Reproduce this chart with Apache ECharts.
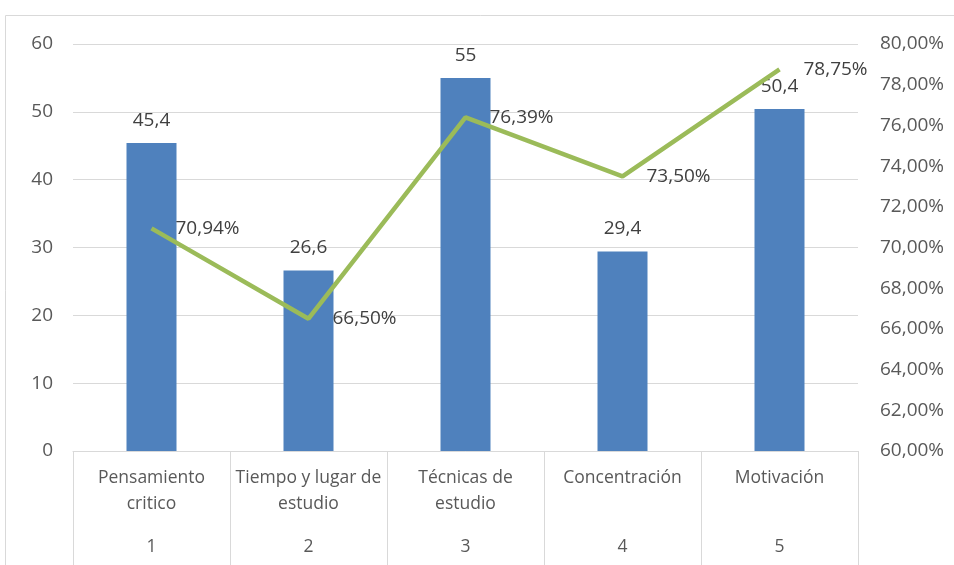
<!DOCTYPE html>
<html>
<head>
<meta charset="utf-8">
<script src="https://cdn.jsdelivr.net/npm/echarts@6/dist/echarts.min.js"></script>
<style>
  html, body { margin: 0; padding: 0; background: #fff; }
  #chart { width: 954px; height: 565px; }
</style>
</head>
<body>
<div id="chart"></div>
<script>
// datos del grafico
var categorias = ['Pensamiento\ncritico', 'Tiempo y lugar de\nestudio', 'Técnicas de\nestudio', 'Concentración', 'Motivación'];
var numeros = ['1', '2', '3', '4', '5'];
var valores = [45.4, 26.6, 55, 29.4, 50.4];
var porcentajes = [70.94, 66.50, 76.39, 73.50, 78.75];

var fuente = 'Open Sans';
var gris = '#d9d9d9';

function coma(v, dec) {
    return (dec == null ? String(v) : v.toFixed(dec)).replace('.', ',');
}

var myChart = echarts.init(document.getElementById('chart'));

var option = {
    animation: false,
    textStyle: { fontFamily: fuente },
    graphic: [
        {
            type: 'rect',
            shape: { x: 5.5, y: 15.5, width: 1000, height: 600 },
            style: { fill: 'none', stroke: gris, lineWidth: 1 },
            silent: true
        }
    ],
    grid: { left: 73, right: 96, top: 44, bottom: 114 },
    xAxis: [
        {
            type: 'category',
            data: categorias,
            position: 'bottom',
            axisLine: { show: true, lineStyle: { color: gris } },
            axisTick: { show: true, length: 114, interval: 0, lineStyle: { color: gris } },
            axisLabel: {
                interval: 0, margin: 14, color: '#595959',
                fontSize: 17.5, lineHeight: 26, fontFamily: fuente
            }
        },
        {
            type: 'category',
            data: numeros,
            position: 'bottom',
            axisLine: { show: false },
            axisTick: { show: false },
            axisLabel: {
                interval: 0, margin: 86, color: '#595959',
                fontSize: 17.5, lineHeight: 20, fontFamily: fuente
            }
        }
    ],
    yAxis: [
        {
            type: 'value',
            min: 0, max: 60, interval: 10,
            axisLine: { show: false },
            axisTick: { show: false },
            splitLine: { lineStyle: { color: gris } },
            axisLabel: { margin: 20, color: '#595959', fontSize: 19, fontFamily: fuente }
        },
        {
            type: 'value',
            min: 60, max: 80, interval: 2,
            axisLine: { show: false },
            axisTick: { show: false },
            splitLine: { show: false },
            axisLabel: {
                margin: 22, color: '#595959', fontSize: 19, fontFamily: fuente,
                formatter: function (v) { return coma(v, 2) + '%'; }
            }
        }
    ],
    series: [
        {
            type: 'bar',
            data: valores,
            barWidth: 50,
            itemStyle: { color: '#4F81BD' },
            label: {
                show: true, position: 'top', distance: 13,
                color: '#404040', fontSize: 19, fontFamily: fuente,
                formatter: function (p) { return coma(p.value); }
            }
        },
        {
            type: 'line',
            yAxisIndex: 1,
            data: porcentajes,
            symbol: 'none',
            lineStyle: { color: '#9BBB59', width: 4.5 },
            z: 3
        },
        {
            // solo etiquetas de la linea
            type: 'scatter',
            yAxisIndex: 1,
            data: porcentajes,
            symbolSize: 2,
            itemStyle: { color: 'rgba(0,0,0,0)', opacity: 1 },
            label: {
                show: true, position: 'right', distance: 23,
                color: '#404040', fontSize: 19, fontFamily: fuente,
                formatter: function (p) { return coma(p.value, 2) + '%'; }
            },
            labelLayout: { hideOverlap: false },
            z: 4
        }
    ]
};

myChart.setOption(option);
</script>
</body>
</html>
